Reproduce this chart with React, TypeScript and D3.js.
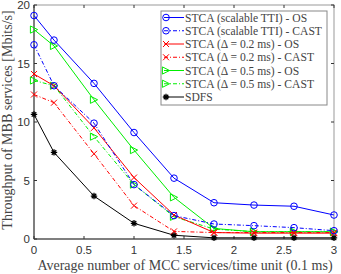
import React, { useRef, useEffect } from "react";
import * as d3 from "d3";

const xVals = [0, 0.2, 0.6, 1.0, 1.4, 1.8, 2.2, 2.6, 3.0];
const blueOS = [19.1, 17.0, 13.3, 9.1, 5.2, 3.1, 2.9, 2.8, 2.05];
const blueCAST = [16.6, 13.1, 9.9, 4.65, 2.0, 1.28, 1.14, 0.97, 0.71];
const redOS = [14.1, 13.1, 9.5, 5.25, 2.05, 0.55, 0.5, 0.5, 0.5];
const redCAST = [12.35, 11.65, 7.28, 2.85, 0.65, 0.55, 0.55, 0.55, 0.55];
const greenOS = [17.9, 16.5, 11.9, 7.6, 3.56, 0.9, 0.62, 0.62, 0.62];
const greenCAST = [13.55, 13.1, 8.75, 4.65, 1.9, 0.85, 0.62, 0.62, 0.6];
const sdfs = [10.65, 7.4, 3.67, 1.34, 0.32, 0.1, 0.1, 0.1, 0.1];
const xTicks = [0, 0.5, 1, 1.5, 2, 2.5, 3];
const yTicks = [0, 5, 10, 15, 20];

const series = [
  { name: "STCA (scalable TTI) - OS", values: blueOS, color: "#0000ff", dash: "", marker: "circle" },
  { name: "STCA (scalable TTI) - CAST", values: blueCAST, color: "#0000ff", dash: "4,2,1,2", marker: "circle" },
  { name: "STCA (\u0394 = 0.2 ms) - OS", values: redOS, color: "#ff0000", dash: "", marker: "x" },
  { name: "STCA (\u0394 = 0.2 ms) - CAST", values: redCAST, color: "#ff0000", dash: "4,2,1,2", marker: "x" },
  { name: "STCA (\u0394 = 0.5 ms) - OS", values: greenOS, color: "#00ee00", dash: "", marker: "tri" },
  { name: "STCA (\u0394 = 0.5 ms) - CAST", values: greenCAST, color: "#00ee00", dash: "4,2,1,2", marker: "tri" },
  { name: "SDFS", values: sdfs, color: "#000000", dash: "", marker: "star" },
];

const SERIF = "'Liberation Serif', 'DejaVu Serif', serif";
const SANS = "'Liberation Sans', Arial, sans-serif";

function drawMarker(g: any, type: string, x: number, y: number, color: string) {
  if (type === "circle") {
    g.append("circle").attr("cx", x).attr("cy", y).attr("r", 3.3)
      .attr("fill", "none").attr("stroke", color).attr("stroke-width", 1);
  } else if (type === "x") {
    const s = 3;
    g.append("path").attr("d", `M${x - s},${y - s}L${x + s},${y + s}M${x - s},${y + s}L${x + s},${y - s}`)
      .attr("stroke", color).attr("stroke-width", 1);
  } else if (type === "tri") {
    const s = 3.6;
    g.append("path").attr("d", `M${x - s},${y - s}L${x + s},${y}L${x - s},${y + s}Z`)
      .attr("fill", "none").attr("stroke", color).attr("stroke-width", 1);
  } else {
    const s = 3.2;
    let d = "";
    for (let k = 0; k < 4; k++) {
      const a = (k * Math.PI) / 4;
      d += `M${x - s * Math.cos(a)},${y - s * Math.sin(a)}L${x + s * Math.cos(a)},${y + s * Math.sin(a)}`;
    }
    g.append("path").attr("d", d).attr("stroke", color).attr("stroke-width", 1.3);
  }
}

export default function App() {
  const ref = useRef<SVGSVGElement>(null);

  useEffect(() => {
    const W = 341, H = 274;
    const left = 34, right = 334, top = 5, bottom = 239;
    const svg = d3.select(ref.current);
    svg.selectAll("*").remove();

    const x = d3.scaleLinear().domain([0, 3]).range([left, right]);
    const y = d3.scaleLinear().domain([0, 20]).range([bottom, top]);

    svg.append("rect").attr("width", W).attr("height", H).attr("fill", "#fff");

    // box
    svg.append("rect").attr("x", left).attr("y", top).attr("width", right - left).attr("height", bottom - top)
      .attr("fill", "none").attr("stroke", "#999").attr("stroke-width", 1);
    svg.append("path").attr("d", `M${left},${top}L${left},${bottom}L${right},${bottom}`)
      .attr("fill", "none").attr("stroke", "#333").attr("stroke-width", 1);

    // ticks
    const tk = 3;
    xTicks.forEach((t) => {
      svg.append("path").attr("d", `M${x(t)},${bottom}v${-tk}M${x(t)},${top}v${tk}`).attr("stroke", "#333");
      svg.append("text").attr("x", x(t)).attr("y", bottom + 15).attr("text-anchor", "middle")
        .style("font-family", SANS).style("font-size", "11.5px").attr("fill", "#333").text(t);
    });
    yTicks.forEach((t) => {
      svg.append("path").attr("d", `M${left},${y(t)}h${tk}M${right},${y(t)}h${-tk}`).attr("stroke", "#333");
      svg.append("text").attr("x", left - 4).attr("y", y(t) + 4).attr("text-anchor", "end")
        .style("font-family", SANS).style("font-size", "11.5px").attr("fill", "#333").text(t);
    });

    // axis labels
    svg.append("text").attr("x", (left + right) / 2 + 1).attr("y", 270).attr("text-anchor", "middle")
      .style("font-family", SERIF).style("font-size", "14px").attr("fill", "#444")
      .text("Average number of MCC services/time unit (0.1 ms)");
    svg.append("text").attr("transform", `translate(12,${(top + bottom) / 2 - 2}) rotate(-90)`).attr("text-anchor", "middle")
      .style("font-family", SERIF).style("font-size", "14px").attr("fill", "#444")
      .text("Throughput of MBB services [Mbits/s]");

    const line = d3.line<number>().x((d, i) => x(xVals[i])).y((d) => y(d));

    // draw in reverse so blue is on top
    [...series].reverse().forEach((s) => {
      const g = svg.append("g");
      g.append("path").attr("d", line(s.values)).attr("fill", "none").attr("stroke", s.color)
        .attr("stroke-width", 1).attr("stroke-dasharray", s.dash || null);
      s.values.forEach((v, i) => drawMarker(g, s.marker, x(xVals[i]), y(v), s.color));
    });

    // legend
    const lx = 161, ly = 11, lw = 166, lh = 94;
    const lg = svg.append("g");
    lg.append("rect").attr("x", lx).attr("y", ly).attr("width", lw).attr("height", lh)
      .attr("fill", "#fff").attr("stroke", "#888").attr("stroke-width", 1);
    const rows = d3.scaleLinear().domain([0, 6]).range([ly + 6.5, ly + 86]);
    series.forEach((s, i) => {
      const cy = rows(i);
      lg.append("path").attr("d", `M${lx + 3},${cy}H${lx + 23}`).attr("stroke", s.color)
        .attr("stroke-width", 1).attr("stroke-dasharray", s.dash || null);
      drawMarker(lg, s.marker, lx + 5, cy, s.color);
      lg.append("text").attr("x", lx + 24).attr("y", cy + 4)
        .style("font-family", SERIF).style("font-size", "11.6px").attr("fill", "#444").text(s.name);
    });
  }, []);

  return (
    <div>
      <svg ref={ref} width={341} height={274} style={{ position: "fixed", left: 0, top: 0 }}></svg>
    </div>
  );
}
